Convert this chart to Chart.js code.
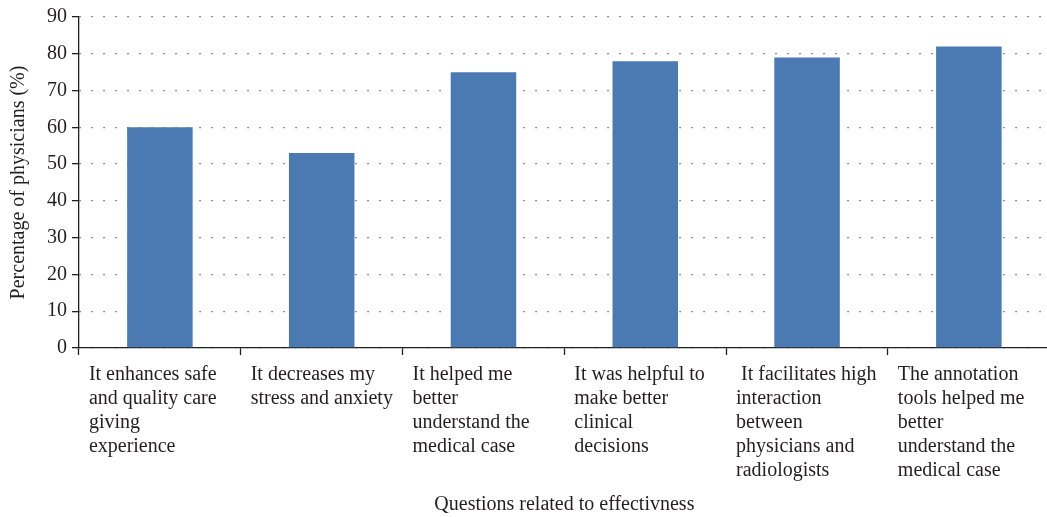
<!DOCTYPE html>
<html>
<head>
<meta charset="utf-8">
<script src="https://cdn.jsdelivr.net/npm/chart.js@4/dist/chart.umd.min.js"></script>
<style>
  html, body { margin: 0; padding: 0; background: #fff; overflow: hidden; }
  #wrap { width: 1104px; height: 517px; position: relative; }
</style>
</head>
<body>
<div id="wrap"><canvas id="chart"></canvas></div>
<script>
const categories = [
  ['It enhances safe', 'and quality care', 'giving', 'experience'],
  ['It decreases my', 'stress and anxiety'],
  ['It helped me', 'better', 'understand the', 'medical case'],
  ['It was helpful to', 'make better', 'clinical', 'decisions'],
  [' It facilitates high', 'interaction', 'between', 'physicians and', 'radiologists'],
  ['The annotation', 'tools helped me', 'better', 'understand the', 'medical case']
];
const percentages = [60, 53, 75, 78, 79, 82];
const yTicks = [0, 10, 20, 30, 40, 50, 60, 70, 80, 90];

const ink = '#231f20';
const serif = "'Liberation Serif', 'DejaVu Serif', serif";

const ctx = document.getElementById('chart').getContext('2d');
new Chart(ctx, {
  type: 'bar',
  data: {
    labels: categories,
    datasets: [{
      data: percentages,
      backgroundColor: '#4b7ab3',
      borderWidth: 0,
      categoryPercentage: 1,
      barPercentage: 0.405
    }]
  },
  options: {
    responsive: true,
    maintainAspectRatio: false,
    animation: false,
    layout: { padding: { top: 4, right: 6, left: 7, bottom: 0 } },
    plugins: {
      legend: { display: false },
      tooltip: { enabled: false }
    },
    scales: {
      x: {
        offset: true,
        grid: {
          offset: true,
          drawOnChartArea: false,
          drawTicks: true,
          tickLength: 7,
          tickColor: ink,
          tickWidth: 1.3
        },
        border: { display: true, color: ink, width: 1.3 },
        ticks: {
          color: ink,
          align: 'start',
          labelOffset: -71,
          padding: 8,
          maxRotation: 0,
          autoSkip: false,
          font: { family: serif, size: 20, lineHeight: 1.2 }
        },
        title: {
          display: true,
          text: 'Questions related to effectivness',
          color: ink,
          font: { family: serif, size: 20 },
          padding: { top: 2, bottom: 0 }
        }
      },
      y: {
        min: 0,
        max: 90,
        afterBuildTicks: axis => { axis.ticks = yTicks.map(v => ({ value: v })); },
        grid: {
          color: '#6d6d6d',
          lineWidth: 1.3,
          drawTicks: true,
          tickLength: 7,
          tickColor: ink,
          tickWidth: 1.3,
          tickBorderDash: []
        },
        border: { display: true, color: ink, width: 1.3, dash: [1.5, 10.5] },
        ticks: {
          color: ink,
          padding: 5,
          font: { family: serif, size: 20 }
        },
        title: {
          display: true,
          text: 'Percentage of physicians (%)',
          color: ink,
          font: { family: serif, size: 20 },
          padding: { top: 0, bottom: 11 }
        }
      }
    }
  }
});
</script>
</body>
</html>
